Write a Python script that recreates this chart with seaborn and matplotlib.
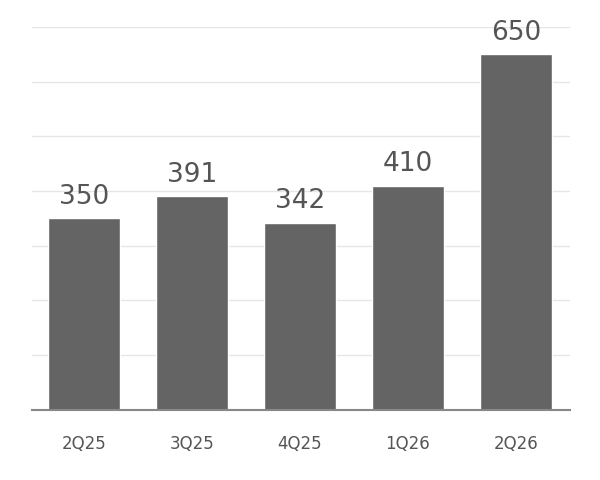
import matplotlib
matplotlib.use("Agg")
import matplotlib.pyplot as plt
import seaborn as sns
import pandas as pd

quarters = ["2Q25", "3Q25", "4Q25", "1Q26", "2Q26"]
values = [350, 391, 342, 410, 650]

sns.set_style("white")
plt.rcParams['font.family'] = ['DejaVu Sans Condensed', 'DejaVu Sans']

df = pd.DataFrame({"quarter": quarters, "value": values})

fig = plt.figure(figsize=(6, 4.8), dpi=100)
ax = fig.add_axes([0.053, 0.146, 0.897, 0.798])
sns.barplot(data=df, x="quarter", y="value", color="#646464", saturation=1,
            width=0.667, ax=ax, zorder=2)
ax.set_ylim(0, 700)
ax.set_xlim(-0.48, 4.5)
ax.set_yticks(range(0, 701, 100))
ax.yaxis.grid(True, color="#e6e6e6", linewidth=1, zorder=0)
ax.set_yticklabels([])
ax.tick_params(axis="y", length=0)
ax.tick_params(axis="x", length=0, pad=18, labelsize=12, labelcolor="#555555")
ax.set_xlabel("")
ax.set_ylabel("")
for s in ["top", "right", "left"]:
    ax.spines[s].set_visible(False)
ax.spines["bottom"].set_color("#888888")
ax.spines["bottom"].set_linewidth(1.5)
for c in ax.containers:
    ax.bar_label(c, padding=6, fontsize=19, color="#555555")

fig.savefig("out.png", dpi=100)
